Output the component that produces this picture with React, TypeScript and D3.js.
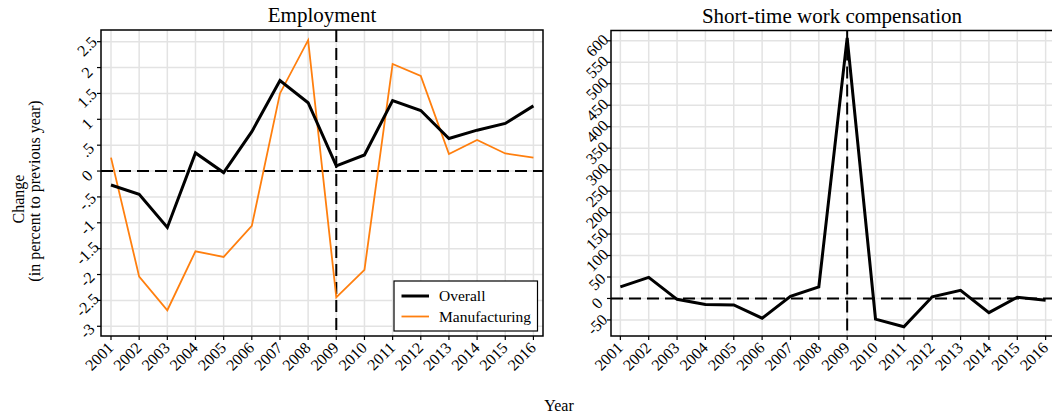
import React from "react";
import * as d3 from "d3";

const years = [2001, 2002, 2003, 2004, 2005, 2006, 2007, 2008, 2009, 2010, 2011, 2012, 2013, 2014, 2015, 2016];
const overall = [-0.27, -0.45, -1.09, 0.35, -0.03, 0.76, 1.75, 1.32, 0.1, 0.31, 1.36, 1.17, 0.63, 0.79, 0.92, 1.26];
const manufacturing = [0.26, -2.04, -2.69, -1.55, -1.66, -1.06, 1.5, 2.53, -2.44, -1.91, 2.07, 1.84, 0.33, 0.6, 0.34, 0.26];
const stw = [27, 49, -2, -14, -15, -46, 5, 27, 607, -48, -66, 4, 19, -33, 3, -4];
const leftTicks = [-3, -2.5, -2, -1.5, -1, -0.5, 0, 0.5, 1, 1.5, 2, 2.5];
const leftTickLabels = ["-3", "-2.5", "-2", "-1.5", "-1", "-.5", "0", ".5", "1", "1.5", "2", "2.5"];
const rightTicks = [-50, 0, 50, 100, 150, 200, 250, 300, 350, 400, 450, 500, 550, 600];

const FONT = "'Liberation Serif', 'Times New Roman', serif";

type PanelProps = {
  x0: number; x1: number; y0: number; y1: number;
  xDomain: [number, number]; yDomain: [number, number];
  yTicks: number[]; yLabels: string[];
  series: { values: number[]; color: string; width: number }[];
  title: string;
};

function Panel(p: PanelProps) {
  const x = d3.scaleLinear().domain(p.xDomain).range([p.x0, p.x1]);
  const y = d3.scaleLinear().domain(p.yDomain).range([p.y1, p.y0]);
  const line = (vals: number[]) =>
    d3.line<number>().x((_, i) => x(years[i])).y((v) => y(v))(vals) || "";
  const clipId = "clip" + p.x0;
  return (
    <g>
      <defs>
        <clipPath id={clipId}>
          <rect x={p.x0} y={p.y0 - 6} width={p.x1 - p.x0} height={p.y1 - p.y0 + 6} />
        </clipPath>
      </defs>
      {years.map((yr) => (
        <line key={"gx" + yr} x1={x(yr)} x2={x(yr)} y1={p.y0} y2={p.y1} stroke="#e3e3e3" strokeWidth={1.5} />
      ))}
      {p.yTicks.map((t) => (
        <line key={"gy" + t} x1={p.x0} x2={p.x1} y1={y(t)} y2={y(t)} stroke="#e3e3e3" strokeWidth={1.5} />
      ))}
      <line x1={p.x0} x2={p.x1} y1={y(0)} y2={y(0)} stroke="#000" strokeWidth={2} strokeDasharray="12,6" />
      <line x1={x(2009)} x2={x(2009)} y1={p.y0} y2={p.y1} stroke="#000" strokeWidth={2} strokeDasharray="12,6" />
      <g clipPath={`url(#${clipId})`}>
        {p.series.map((s, i) => (
          <path key={i} d={line(s.values)} fill="none" stroke={s.color} strokeWidth={s.width} strokeLinejoin="miter" />
        ))}
      </g>
      <rect x={p.x0} y={p.y0} width={p.x1 - p.x0} height={p.y1 - p.y0} fill="none" stroke="#000" strokeWidth={1.5} />
      {p.yTicks.map((t, i) => (
        <g key={"ty" + t}>
          <line x1={p.x0 - 4} x2={p.x0} y1={y(t)} y2={y(t)} stroke="#000" strokeWidth={1.2} />
          <text
            transform={`translate(${p.x0 - 5},${y(t)}) rotate(-45)`}
            textAnchor="middle"
            dy="0.15em"
            dx="-0.6em"
            fontFamily={FONT}
            fontSize={16}
          >
            {p.yLabels[i]}
          </text>
        </g>
      ))}
      {years.map((yr) => (
        <g key={"tx" + yr}>
          <line x1={x(yr)} x2={x(yr)} y1={p.y1} y2={p.y1 + 4} stroke="#000" strokeWidth={1.2} />
          <text
            transform={`translate(${x(yr) - 0.5},${p.y1 + 9}) rotate(-45)`}
            textAnchor="end"
            dy="0.35em"
            fontFamily={FONT}
            fontSize={16}
          >
            {yr}
          </text>
        </g>
      ))}
      <text x={(p.x0 + p.x1) / 2} y={p.y0 - 8} textAnchor="middle" fontFamily={FONT} fontSize={21}>
        {p.title}
      </text>
    </g>
  );
}

export default function App() {
  const legendX = 394, legendY = 281;
  return (
    <svg width={1052} height={418} style={{ position: "absolute", left: 0, top: 0, background: "#fff" }}>
      <rect width={1052} height={418} fill="#fff" />
      <Panel
        x0={101} x1={543} y0={30} y1={336}
        xDomain={[2000.645, 2016.34]} yDomain={[-3.188, 2.726]}
        yTicks={leftTicks} yLabels={leftTickLabels}
        series={[
          { values: manufacturing, color: "#ff7f0e", width: 1.8 },
          { values: overall, color: "#000", width: 3 },
        ]}
        title="Employment"
      />
      <Panel
        x0={611} x1={1053} y0={30.5} y1={336}
        xDomain={[2000.67, 2016.26]} yDomain={[-87.4, 624]}
        yTicks={rightTicks} yLabels={rightTicks.map(String)}
        series={[{ values: stw, color: "#000", width: 3 }]}
        title="Short-time work compensation"
      />
      <g>
        <rect x={legendX} y={legendY} width={143.5} height={50} fill="#fff" stroke="#000" strokeWidth={1.2} />
        <line x1={legendX + 7.5} x2={legendX + 35} y1={legendY + 15} y2={legendY + 15} stroke="#000" strokeWidth={3} />
        <text x={legendX + 45} y={legendY + 15} dy="0.35em" fontFamily={FONT} fontSize={15.5}>Overall</text>
        <line x1={legendX + 7.5} x2={legendX + 35} y1={legendY + 35.5} y2={legendY + 35.5} stroke="#ff7f0e" strokeWidth={1.8} />
        <text x={legendX + 45} y={legendY + 35.5} dy="0.35em" fontFamily={FONT} fontSize={15.5}>Manufacturing</text>
      </g>
      <text transform="translate(24,199) rotate(-90)" textAnchor="middle" fontFamily={FONT} fontSize={16}>Change</text>
      <text transform="translate(40,191) rotate(-90)" textAnchor="middle" fontFamily={FONT} fontSize={16}>(in percent to previous year)</text>
      <text x={559} y={411} textAnchor="middle" fontFamily={FONT} fontSize={16}>Year</text>
    </svg>
  );
}
